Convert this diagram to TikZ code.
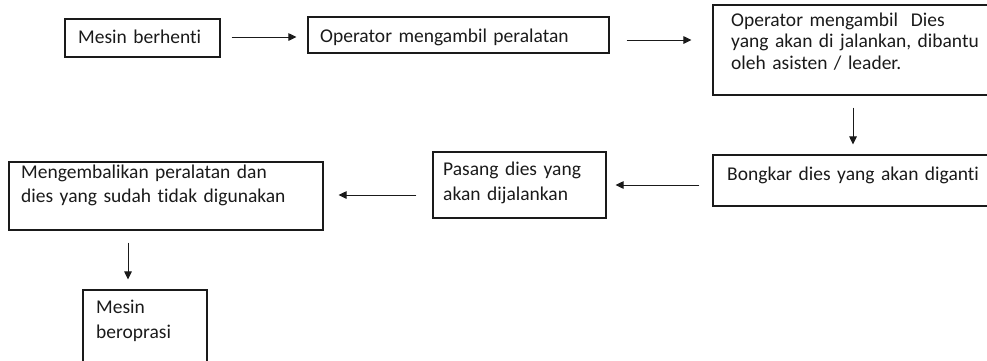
\documentclass[tikz,border=0pt]{standalone}
\usepackage{fontspec}
\setmainfont[Ligatures=NoCommon]{Carlito}
\usetikzlibrary{arrows.meta,calc}

\definecolor{ink}{HTML}{1A1A1A}

\tikzset{
  box/.style={draw=ink, line width=1.1pt, rectangle, inner sep=0pt},
  txt/.style={anchor=base west, inner sep=0pt, text=ink, text width=340pt, align=left,
              font=\fontsize{19.5}{21.5}\selectfont},
  loose/.style={font=\fontsize{19.5}{25}\selectfont},
  arr/.style={draw=ink, line width=1pt, -{Triangle[length=8pt,width=7.5pt]}}
}

\begin{document}
\begin{tikzpicture}[x=1pt,y=-1pt]
\path[use as bounding box] (0,0) rectangle (987,360);
\clip (0,0) rectangle (987,360);

% process boxes
\node[box, minimum width=155, minimum height=38] (b1) at (142.5,38) {};
\node[box, minimum width=301, minimum height=36] (b2) at (458.5,35) {};
\node[box, minimum width=282, minimum height=90] (b3) at (854,50) {};
\node[box, minimum width=282, minimum height=51] (b4) at (854,180.5) {};
\node[box, minimum width=173, minimum height=66] (b5) at (519.5,185) {};
\node[box, minimum width=314, minimum height=68] (b6) at (166,196) {};
\node[box, minimum width=124, minimum height=80] (b7) at (145,330) {};

% box texts
\node[txt] (t1) at (78,43) {Mesin berhenti};
\node[txt] (t2) at (320,42) {Operator mengambil peralatan};
\node[txt] (t3) at (731,26) {Operator mengambil \ Dies\\yang akan di jalankan, dibantu\\oleh asisten / leader.};
\node[txt] (t4) at (727,180) {Bongkar dies yang akan diganti};
\node[txt, loose] (t5) at (443,175) {Pasang dies yang\\akan dijalankan};
\node[txt, font=\fontsize{19.5}{24}\selectfont] (t6) at (21,178) {Mengembalikan peralatan dan\\dies yang sudah tidak digunakan};
\node[txt, loose] (t7) at (96,313) {Mesin\\beroprasi};

% flow arrows
\coordinate (a1s) at ($(b1.east)+(11,-1)$);
\draw[arr] (a1s) -- ($(b2.west |- a1s)+(-11,0)$);

\coordinate (a2s) at ($(b2.east)+(17,5)$);
\draw[arr] (a2s) -- ($(b3.west |- a2s)+(-21,0)$);

\draw[arr] ($(b3.south)+(-1,12)$) -- ($(b4.north)+(-1,-10)$);

\coordinate (a4s) at ($(b4.west)+(-13,4.5)$);
\draw[arr] (a4s) -- ($(b5.east |- a4s)+(9,0)$);

\coordinate (a5s) at ($(b5.west)+(-16,10)$);
\draw[arr] (a5s) -- ($(b6.east |- a5s)+(15,0)$);

\draw[arr] ($(b6.south)+(-38,12)$) -- ($(b7.north)+(-17,-10)$);
\end{tikzpicture}
\end{document}
